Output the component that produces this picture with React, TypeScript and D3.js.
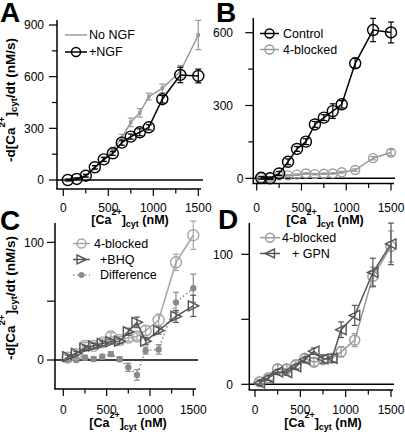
import React from 'react';
import * as d3 from 'd3';

// ---------- data ----------
const concX = [50, 150, 250, 350, 450, 550, 650, 750, 850, 950, 1100, 1300, 1500];

// Panel A
const noNGF = [0, 5, 22, 70, 118, 175, 245, 335, 390, 484, 532, 630, 842];
const noNGFErr = [5, 5, 8, 10, 12, 15, 20, 25, 25, 20, 25, 35, 85];
const plusNGF = [0, 6, 25, 74, 120, 155, 217, 252, 277, 306, 469, 610, 604];
const plusNGFErr = [5, 6, 8, 10, 12, 12, 15, 15, 20, 15, 22, 45, 40];

// Panel B
const control = [2, 0, 20, 68, 121, 151, 222, 250, 277, 305, 474, 611, 601];
const controlErr = [6, 5, 8, 12, 10, 12, 12, 12, 30, 15, 20, 48, 43];

// shared 4-blocked (B, C, D)
const blocked4 = [2, 5, 12, 12, 15, 20, 17, 19, 20, 25, 34, 83, 106];
const blocked4Err = [2, 2, 3, 3, 3, 3, 3, 3, 3, 4, 5, 7, 12];

// Panel C
const bhq = [2.8, 5.7, 10, 12, 14, 15.6, 16, 24, 32, 16, 25, 37, 46];
const bhqErr = [1.5, 1.5, 2, 2, 2, 2, 2, 3, 4.5, 3, 3, 5, 9];
const difference = [0, 0, 2, 0.8, 2.8, 5, 0.6, -6.2, -12.7, 8, 9, 49, 61];
const differenceErr = [1.5, 1.5, 2, 2, 2, 2, 2, 3.5, 4.5, 3, 4, 8.5, 12];

// Panel D
const gpn = [1, 5, 9.5, 9, 13.5, 19, 25.5, 19.5, 20, 42, 53, 86, 108];
const gpnErr = [2, 2, 2, 2, 2, 2, 2.5, 3, 3, 6, 7.7, 11, 16];

const xMajor = [0, 500, 1000, 1500];
const xMinor = [250, 750, 1250];

// ---------- types ----------
type Marker = 'circle' | 'square' | 'triR' | 'triL' | 'dot';
interface Series {
  y: number[];
  err: number[];
  color: string;
  marker: Marker;
  r: number;
  dash?: string;
}
interface LegendItem {
  label: string;
  s: Series;
  x0: number;
  x1: number;
  y: number;
  tx: number;
}
interface Panel {
  letter: string;
  lx: number;
  ly: number;
  xRange: [number, number];
  yDomain: [number, number];
  yRange: [number, number];
  axisX: number;
  axisTop: number;
  axisY: number;
  axisRight: number;
  zeroRight: number;
  yMajor: number[];
  yMinor: number[];
  yLabeled: number[];
  yLabelRight: number;
  yZeroLabelRight?: number;
  xLabelBase: number;
  titleX: number;
  titleY: number;
  yTitle?: { x: number; y: number };
  series: Series[];
  legend: LegendItem[];
}

const FONT = "'Liberation Sans', Arial, Helvetica, sans-serif";
const GRAY = '#9a9a9a';
const DARK = '#555555';
const DIFF = '#8a8a8a';

function drawMarker(m: Marker, x: number, y: number, r: number, color: string, key: string) {
  const sw = 1.4;
  switch (m) {
    case 'circle':
      return <circle key={key} cx={x} cy={y} r={r} fill="none" stroke={color} strokeWidth={sw} />;
    case 'square':
      return <rect key={key} x={x - r} y={y - r} width={2 * r} height={2 * r} fill={color} />;
    case 'dot':
      return <circle key={key} cx={x} cy={y} r={r} fill={color} />;
    case 'triR':
      return (
        <path key={key} d={`M${x - r},${y - r}L${x + r * 1.1},${y}L${x - r},${y + r}Z`} fill="none" stroke={color} strokeWidth={sw} strokeLinejoin="miter" />
      );
    case 'triL':
      return (
        <path key={key} d={`M${x + r},${y - r}L${x - r * 1.1},${y}L${x + r},${y + r}Z`} fill="none" stroke={color} strokeWidth={sw} strokeLinejoin="miter" />
      );
  }
}

function CaText(props: { x: number; y: number; size: number; prefix?: string; suffix: string; rotate?: boolean }) {
  const { x, y, size, prefix = '', suffix, rotate } = props;
  const small = size * 0.72;
  const up = size * 0.72;
  const down = size * 0.22;
  return (
    <text
      x={rotate ? 0 : x}
      y={rotate ? 0 : y}
      transform={rotate ? `translate(${x},${y}) rotate(-90)` : undefined}
      textAnchor="middle"
      fontWeight="bold"
      fontSize={size}
      fontFamily={FONT}
      fill="#000"
    >
      {prefix}[Ca
      <tspan fontSize={small} dy={-up}>2+</tspan>
      <tspan dy={up}>]</tspan>
      <tspan fontSize={small} dy={down}>cyt</tspan>
      <tspan dy={-down}>{suffix}</tspan>
    </text>
  );
}

function PanelView({ p }: { p: Panel }) {
  const xs = d3.scaleLinear().domain([0, 1500]).range(p.xRange);
  const ys = d3.scaleLinear().domain(p.yDomain).range(p.yRange);
  const line = d3
    .line<number>()
    .x((_, i) => xs(concX[i]))
    .y((d) => ys(d));
  const axisW = 1.5;
  return (
    <g>
      <text x={p.lx} y={p.ly} fontSize={28} fontWeight="bold" fontFamily={FONT}>
        {p.letter}
      </text>
      {/* axes */}
      <line x1={p.axisX} x2={p.axisX} y1={p.axisTop} y2={p.axisY} stroke="#000" strokeWidth={axisW} />
      <line x1={p.axisX - 0.75} x2={p.axisRight} y1={p.axisY} y2={p.axisY} stroke="#000" strokeWidth={axisW} />
      <line x1={p.axisX} x2={p.zeroRight} y1={ys(0)} y2={ys(0)} stroke="#000" strokeWidth={1.6} />
      {p.yMajor.map((v) => (
        <line key={'ym' + v} x1={p.axisX - 8} x2={p.axisX} y1={ys(v)} y2={ys(v)} stroke="#000" strokeWidth={1.2} />
      ))}
      {p.yMinor.map((v) => (
        <line key={'yn' + v} x1={p.axisX - 5} x2={p.axisX} y1={ys(v)} y2={ys(v)} stroke="#000" strokeWidth={1.2} />
      ))}
      {p.yLabeled.map((v) => (
        <text
          key={'yl' + v}
          x={v === 0 && p.yZeroLabelRight !== undefined ? p.yZeroLabelRight : p.yLabelRight}
          y={ys(v)}
          dy="0.35em"
          textAnchor="end"
          fontSize={12}
          fontFamily={FONT}
        >
          {v}
        </text>
      ))}
      {xMajor.map((v) => (
        <line key={'xm' + v} x1={xs(v)} x2={xs(v)} y1={p.axisY} y2={p.axisY + 7} stroke="#000" strokeWidth={1.2} />
      ))}
      {xMinor.map((v) => (
        <line key={'xn' + v} x1={xs(v)} x2={xs(v)} y1={p.axisY} y2={p.axisY + 4.5} stroke="#000" strokeWidth={1.2} />
      ))}
      {xMajor.map((v) => (
        <text key={'xl' + v} x={xs(v)} y={p.xLabelBase} textAnchor="middle" fontSize={12} fontFamily={FONT}>
          {v}
        </text>
      ))}
      <CaText x={p.titleX} y={p.titleY} size={12.5} suffix=" (nM)" />
      {p.yTitle && <CaText x={p.yTitle.x} y={p.yTitle.y} size={13.5} prefix="-d" suffix="/dt (nM/s)" rotate />}
      {/* series */}
      {p.series.map((s, si) => (
        <g key={'s' + si}>
          <path d={line(s.y) || ''} fill="none" stroke={s.color} strokeWidth={1.5} strokeDasharray={s.dash} />
          {s.y.map((v, i) => {
            const x = xs(concX[i]);
            const y0 = ys(v - s.err[i]);
            const y1 = ys(v + s.err[i]);
            return (
              <g key={'e' + i} stroke={s.color} strokeWidth={1.2}>
                <line x1={x} x2={x} y1={y0} y2={y1} />
                <line x1={x - 3} x2={x + 3} y1={y0} y2={y0} />
                <line x1={x - 3} x2={x + 3} y1={y1} y2={y1} />
              </g>
            );
          })}
          {s.y.map((v, i) => drawMarker(s.marker, xs(concX[i]), ys(v), s.r, s.color, 'm' + i))}
        </g>
      ))}
      {/* legend */}
      {p.legend.map((l, li) => (
        <g key={'l' + li}>
          <line x1={l.x0} x2={l.x1} y1={l.y} y2={l.y} stroke={l.s.color} strokeWidth={1.5} strokeDasharray={l.s.dash} />
          {l.s.marker !== 'square' && drawMarker(l.s.marker, (l.x0 + l.x1) / 2, l.y, l.s.marker === 'dot' ? 3 : 4.5, l.s.color, 'lm')}
          <text x={l.tx} y={l.y} dy="0.35em" fontSize={12.5} fontFamily={FONT}>
            {l.label}
          </text>
        </g>
      ))}
    </g>
  );
}

const sNoNGF: Series = { y: noNGF, err: noNGFErr, color: GRAY, marker: 'square', r: 1.8 };
const sPlusNGF: Series = { y: plusNGF, err: plusNGFErr, color: '#000', marker: 'circle', r: 5.5 };
const sControl: Series = { y: control, err: controlErr, color: '#000', marker: 'circle', r: 5.5 };
const sBlockedB: Series = { y: blocked4, err: blocked4Err, color: GRAY, marker: 'circle', r: 4.5 };
const sBlockedC: Series = { y: blocked4, err: blocked4Err, color: '#a5a5a5', marker: 'circle', r: 5.5 };
const sBHQ: Series = { y: bhq, err: bhqErr, color: DARK, marker: 'triR', r: 5 };
const sDiff: Series = { y: difference, err: differenceErr, color: DIFF, marker: 'dot', r: 3.2, dash: '1.5,2.5' };
const sBlockedD: Series = { y: blocked4, err: blocked4Err, color: GRAY, marker: 'circle', r: 5 };
const sGPN: Series = { y: gpn, err: gpnErr, color: DARK, marker: 'triL', r: 5 };

const panels: Panel[] = [
  {
    letter: 'A', lx: 0, ly: 22,
    xRange: [63.3, 198.3], yDomain: [0, 900], yRange: [180, 25],
    axisX: 57, axisTop: 20, axisY: 189, axisRight: 201, zeroRight: 203,
    yMajor: [0, 300, 600, 900], yMinor: [150, 450, 750], yLabeled: [0, 300, 600, 900], yLabelRight: 44,
    xLabelBase: 211.5, titleX: 130, titleY: 224,
    yTitle: { x: 14.5, y: 100 },
    series: [sNoNGF, sPlusNGF],
    legend: [
      { label: 'No NGF', s: sNoNGF, x0: 65, x1: 87, y: 35, tx: 89 },
      { label: '+NGF', s: sPlusNGF, x0: 65, x1: 87, y: 52, tx: 89 },
    ],
  },
  {
    letter: 'B', lx: 216, ly: 22,
    xRange: [256.7, 391], yDomain: [0, 600], yRange: [178.3, 32.7],
    axisX: 253.3, axisTop: 18, axisY: 183.5, axisRight: 394, zeroRight: 395,
    yMajor: [0, 300, 600], yMinor: [150, 450], yLabeled: [0, 300, 600], yLabelRight: 233, yZeroLabelRight: 243.5,
    xLabelBase: 211.5, titleX: 325, titleY: 224,
    series: [sBlockedB, sControl],
    legend: [
      { label: 'Control', s: sControl, x0: 260, x1: 279, y: 33.5, tx: 283 },
      { label: '4-blocked', s: sBlockedB, x0: 260, x1: 279, y: 49.5, tx: 283 },
    ],
  },
  {
    letter: 'C', lx: 0, ly: 230,
    xRange: [63.3, 193.3], yDomain: [0, 100], yRange: [360, 242.3],
    axisX: 55, axisTop: 223, axisY: 389, axisRight: 196, zeroRight: 198,
    yMajor: [0, 50, 100], yMinor: [], yLabeled: [0, 100], yLabelRight: 44,
    xLabelBase: 414, titleX: 128, titleY: 427,
    yTitle: { x: 14.5, y: 298 },
    series: [sDiff, sBlockedC, sBHQ],
    legend: [
      { label: '4-blocked', s: sBlockedC, x0: 73, x1: 90, y: 243.5, tx: 94 },
      { label: '+BHQ', s: sBHQ, x0: 73, x1: 90, y: 259.5, tx: 100 },
      { label: 'Difference', s: sDiff, x0: 73, x1: 90, y: 275, tx: 100 },
    ],
  },
  {
    letter: 'D', lx: 218, ly: 229,
    xRange: [255, 391], yDomain: [0, 100], yRange: [384.3, 254.3],
    axisX: 249.3, axisTop: 223, axisY: 390, axisRight: 393, zeroRight: 394,
    yMajor: [0, 50, 100], yMinor: [], yLabeled: [0, 100], yLabelRight: 233,
    xLabelBase: 414, titleX: 323, titleY: 427,
    series: [sBlockedD, sGPN],
    legend: [
      { label: '4-blocked', s: sBlockedD, x0: 260, x1: 280, y: 237.7, tx: 282 },
      { label: '+ GPN', s: sGPN, x0: 260, x1: 280, y: 253.5, tx: 292 },
    ],
  },
];

export default function App() {
  return (
    <svg
      width={405}
      height={435}
      viewBox="0 0 405 435"
      style={{ position: 'absolute', left: 0, top: 0, background: '#fff' }}
    >
      <rect width={405} height={435} fill="#fff" />
      {panels.map((p) => (
        <PanelView key={p.letter} p={p} />
      ))}
    </svg>
  );
}
